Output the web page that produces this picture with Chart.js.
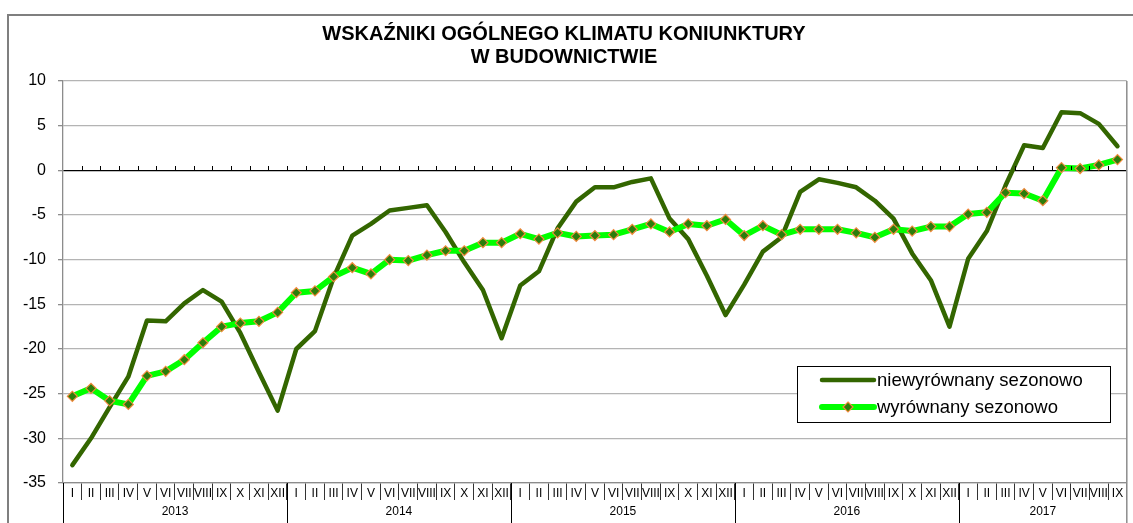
<!DOCTYPE html>
<html>
<head>
<meta charset="utf-8">
<script src="https://cdn.jsdelivr.net/npm/chart.js@4/dist/chart.umd.min.js"></script>
<style>
  html, body { margin: 0; padding: 0; background: #fff; overflow: hidden; }
  #wrap { position: relative; width: 1133px; height: 523px; }
  #frame {
    position: absolute; left: 7px; top: 14px; width: 1200px; height: 600px;
    border: 2px solid #7f7f7f; box-sizing: border-box;
  }
  #chart { position: absolute; left: 0; top: 0; }
</style>
</head>
<body>
<div id="wrap">
  <div id="frame"></div>
  <canvas id="chart" width="1133" height="523"></canvas>
</div>
<script>
// dane
const months = ["I", "II", "III", "IV", "V", "VI", "VII", "VIII", "IX", "X", "XI", "XII"];
const years = ["2013", "2014", "2015", "2016", "2017"];
const monthsInYear = [12, 12, 12, 12, 9];

const niewyrownany = [
  -33.0, -30.0, -26.5, -23.1, -16.8, -16.9, -14.9, -13.4, -14.7, -18.2, -22.6, -26.9,
  -20.0, -18.0, -12.0, -7.3, -6.0, -4.5, -4.2, -3.9, -6.9, -10.3, -13.4, -18.8,
  -12.9, -11.3, -6.5, -3.5, -1.9, -1.9, -1.3, -0.9, -5.4, -7.7, -11.8, -16.2,
  -12.8, -9.1, -7.5, -2.4, -1.0, -1.4, -1.9, -3.4, -5.4, -9.3, -12.3, -17.5,
  -9.9, -6.8, -1.7, 2.8, 2.5, 6.5, 6.4, 5.2, 2.7
];

const wyrownany = [
  -25.3, -24.4, -25.8, -26.2, -23.0, -22.5, -21.2, -19.3, -17.5, -17.1, -16.9, -15.9,
  -13.7, -13.5, -11.9, -10.9, -11.6, -10.0, -10.1, -9.5, -9.0, -9.0, -8.1, -8.1,
  -7.1, -7.7, -7.0, -7.4, -7.3, -7.2, -6.6, -6.0, -6.9, -6.0, -6.2, -5.5,
  -7.3, -6.2, -7.2, -6.6, -6.6, -6.6, -7.0, -7.5, -6.6, -6.8, -6.3, -6.3,
  -4.9, -4.7, -2.5, -2.6, -3.4, 0.3, 0.2, 0.6, 1.2
];

const yMin = -35, yMax = 10, yStep = 5;

const labels = [];
years.forEach((yr, k) => {
  for (let m = 0; m < monthsInYear[k]; m++) labels.push(months[m]);
});

const FONT = "'Liberation Sans', Arial, sans-serif";

// dodatki: znaczniki na osi 0, lata pod osią, prawa ramka, legenda
const decor = {
  id: "decor",
  afterDraw(chart) {
    const { ctx, chartArea: a, scales } = chart;
    const x = scales.x, y = scales.y;
    const step = x.getPixelForValue(1) - x.getPixelForValue(0);
    ctx.save();

    // prawa krawędź obszaru wykresu
    ctx.strokeStyle = "#8c8c8c";
    ctx.lineWidth = 1.5;
    ctx.beginPath();
    ctx.moveTo(a.right, a.top);
    ctx.lineTo(a.right, chart.height);
    ctx.stroke();

    // kreski na linii zera
    const y0 = Math.round(y.getPixelForValue(0));
    ctx.strokeStyle = "#000";
    ctx.lineWidth = 1;
    for (let i = 1; i < labels.length; i++) {
      const px = Math.round(x.getPixelForValue(i) - step / 2) + 0.5;
      ctx.beginPath();
      ctx.moveTo(px, y0 - 4);
      ctx.lineTo(px, y0);
      ctx.stroke();
    }

    // lata
    let start = 0;
    ctx.font = "12px " + FONT;
    ctx.fillStyle = "#000";
    ctx.textAlign = "center";
    ctx.textBaseline = "middle";
    years.forEach((yr, k) => {
      const x1 = x.getPixelForValue(start) - step / 2;
      const x2 = x.getPixelForValue(start + monthsInYear[k] - 1) + step / 2;
      ctx.strokeStyle = "#000";
      ctx.lineWidth = 1;
      ctx.beginPath();
      ctx.moveTo(Math.round(x1) + 0.5, a.bottom);
      ctx.lineTo(Math.round(x1) + 0.5, chart.height);
      ctx.stroke();
      ctx.fillText(yr, (x1 + x2) / 2, a.bottom + 29);
      start += monthsInYear[k];
    });

    // legenda
    const lx = 797, ly = 366, lw = 313, lh = 56;
    ctx.fillStyle = "#fff";
    ctx.fillRect(lx, ly, lw, lh);
    ctx.strokeStyle = "#000";
    ctx.lineWidth = 1;
    ctx.strokeRect(lx + 0.5, ly + 0.5, lw, lh);
    ctx.font = "18.5px " + FONT;
    ctx.textAlign = "left";
    ctx.textBaseline = "middle";
    chart.data.datasets.forEach((ds, i) => {
      const ry = ly + 14 + i * 27;
      ctx.strokeStyle = ds.borderColor;
      ctx.lineWidth = ds.borderWidth;
      ctx.lineCap = "round";
      ctx.beginPath();
      ctx.moveTo(822, ry);
      ctx.lineTo(874, ry);
      ctx.stroke();
      if (ds.pointRadius > 0) {
        const r = ds.pointRadius;
        ctx.beginPath();
        ctx.moveTo(848, ry - r);
        ctx.lineTo(848 + r, ry);
        ctx.lineTo(848, ry + r);
        ctx.lineTo(848 - r, ry);
        ctx.closePath();
        ctx.fillStyle = ds.pointBackgroundColor;
        ctx.fill();
        ctx.strokeStyle = ds.pointBorderColor;
        ctx.lineWidth = ds.pointBorderWidth;
        ctx.stroke();
      }
      ctx.fillStyle = "#000";
      ctx.fillText(ds.label, 877, ry + 1);
    });
    ctx.restore();
  }
};

new Chart(document.getElementById("chart"), {
  type: "line",
  data: {
    labels: labels,
    datasets: [
      {
        label: "niewyrównany sezonowo",
        data: niewyrownany,
        borderColor: "#336600",
        borderWidth: 4.5,
        pointRadius: 0,
        pointHoverRadius: 0,
        tension: 0,
        borderJoinStyle: "round",
        borderCapStyle: "round",
        order: 2,
      },
      {
        label: "wyrównany sezonowo",
        data: wyrownany,
        borderColor: "#00ff00",
        borderWidth: 6,
        pointStyle: "rectRot",
        pointRadius: 5,
        pointBackgroundColor: "#2b7d0b",
        pointBorderColor: "#f08a3c",
        pointBorderWidth: 1.2,
        tension: 0,
        borderJoinStyle: "round",
        order: 1,
      },
    ],
  },
  options: {
    responsive: false,
    animation: false,
    layout: { padding: { left: 0, right: 5, top: 0, bottom: 0 } },
    plugins: {
      legend: { display: false },
      tooltip: { enabled: false },
      title: {
        display: true,
        text: ["WSKAŹNIKI OGÓLNEGO KLIMATU KONIUNKTURY", "W BUDOWNICTWIE"],
        color: "#000",
        font: { family: FONT, size: 20, weight: "bold", lineHeight: 1.15 },
        padding: { top: 23, bottom: 12 },
      },
    },
    scales: {
      x: {
        type: "category",
        offset: true,
        afterFit: (s) => { s.height = 40; },
        grid: {
          drawOnChartArea: false,
          offset: true,
          tickLength: 17,
          color: "#333",
          lineWidth: 1,
        },
        border: { color: "#8c8c8c", width: 1.3 },
        ticks: {
          autoSkip: false,
          maxRotation: 0,
          padding: -14,
          color: "#000",
          font: { family: FONT, size: 12 },
        },
      },
      y: {
        min: yMin,
        max: yMax,
        afterFit: (s) => { s.width = 63; },
        ticks: {
          stepSize: yStep,
          padding: 12,
          color: "#000",
          font: { family: FONT, size: 16 },
        },
        grid: {
          color: (c) => (c.tick && c.tick.value === 0 ? "#000" : "#b4b4b4"),
          lineWidth: 1.3,
          tickLength: 5,
          tickColor: "#8c8c8c",
        },
        border: { color: "#8c8c8c", width: 1.3 },
      },
    },
  },
  plugins: [decor],
});
</script>
</body>
</html>
